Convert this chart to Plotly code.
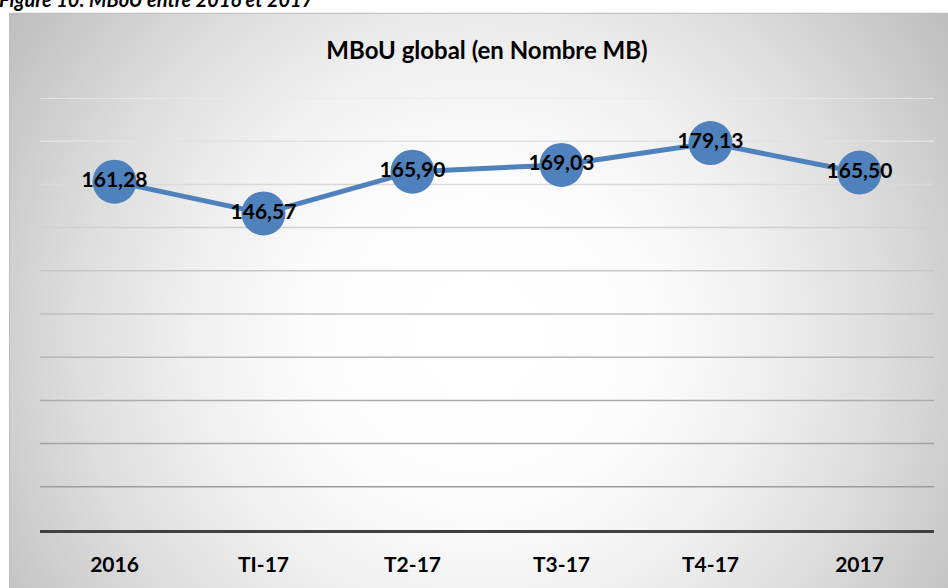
import base64
import plotly.graph_objects as go

# ---- data ----
categories = ["2016", "TI-17", "T2-17", "T3-17", "T4-17", "2017"]
values = [161.28, 146.57, 165.90, 169.03, 179.13, 165.50]
value_labels = [f"{v:.2f}".replace(".", ",") for v in values]
grid_values = [20, 40, 60, 80, 100, 120, 140, 160, 180, 200]

chart_title = "MBoU global (en Nombre MB)"
caption = "Figure 10: MBoU entre 2016 et 2017"

W, H = 948, 588
ML, MR, MT, MB = 40, 14, 98, 54
PW, PH = W - ML - MR, H - MT - MB

FONT = "Lato"
BLUE = "#4f81bd"

# radial gradient background (frame) as an SVG image
FX0, FY0, FX1, FY1 = 9, 12, 960, 600
fw, fh = FX1 - FX0, FY1 - FY0
svg = f'''<svg xmlns="http://www.w3.org/2000/svg" width="{fw}" height="{fh}" viewBox="0 0 {fw} {fh}">
<defs><radialGradient id="g" gradientUnits="userSpaceOnUse" cx="{470}" cy="{325}" r="{570}">
<stop offset="0" stop-color="#ffffff"/>
<stop offset="0.3" stop-color="#fcfcfc"/>
<stop offset="0.5" stop-color="#f0f0f0"/>
<stop offset="0.7" stop-color="#dedede"/>
<stop offset="0.85" stop-color="#cecece"/>
<stop offset="1" stop-color="#bebebe"/>
</radialGradient></defs>
<rect x="0" y="0" width="{fw}" height="{fh}" fill="url(#g)"/>
</svg>'''
svg_uri = "data:image/svg+xml;base64," + base64.b64encode(svg.encode()).decode()

def px_to_paper_x(px):
    return (px - ML) / PW

def px_to_paper_y(py):
    return (H - MB - py) / PH

fig = go.Figure()

fig.add_trace(go.Scatter(
    x=categories, y=values,
    mode="lines+markers+text",
    line=dict(color=BLUE, width=5),
    marker=dict(size=44, color=BLUE),
    text=value_labels,
    textposition="middle center",
    textfont=dict(family=FONT, size=21, color="#000000", weight="bold"),
    cliponaxis=False,
    hoverinfo="x+y",
))

# gridlines with graded colours (lighter toward the top)
shapes = []
n = len(grid_values)
for i, gv in enumerate(grid_values):
    t = i / (n - 1)
    c = int(round(0x9c + t * (0xea - 0x9c)))
    shapes.append(dict(type="line", xref="paper", yref="y", x0=0, x1=1, y0=gv, y1=gv,
                       line=dict(color=f"rgb({c},{c},{c})", width=1.5), layer="below"))
# frame border: top and left edges
bx0, by0 = px_to_paper_x(FX0 + 0.5), px_to_paper_y(FY0 + 0.5)
bx1, by1 = px_to_paper_x(FX1), px_to_paper_y(FY1)
shapes.append(dict(type="path", xref="paper", yref="paper",
                   path=f"M {bx0} {by1} L {bx0} {by0} L {bx1} {by0}",
                   line=dict(color="#bdbdbd", width=1), layer="below"))

fig.update_layout(
    width=W, height=H,
    margin=dict(l=ML, r=MR, t=MT, b=MB),
    paper_bgcolor="white",
    plot_bgcolor="rgba(0,0,0,0)",
    showlegend=False,
    images=[dict(source=svg_uri, xref="paper", yref="paper",
                 x=px_to_paper_x(FX0), y=px_to_paper_y(FY0),
                 sizex=fw / PW, sizey=fh / PH,
                 xanchor="left", yanchor="top", sizing="stretch", layer="below")],
    shapes=shapes,
    title=dict(text=chart_title, x=px_to_paper_x(487), xref="paper", y=1 - 51 / H, yref="container",
               xanchor="center", yanchor="middle",
               font=dict(family=FONT, size=24, color="#000000", weight="bold")),
    annotations=[dict(text=caption, xref="paper", yref="paper",
                      x=px_to_paper_x(-3), y=px_to_paper_y(12),
                      xanchor="left", yanchor="bottom", showarrow=False,
                      font=dict(family=FONT, size=20, color="#000000", weight="bold", style="italic"))],
    xaxis=dict(type="category", range=[-0.5, len(categories) - 0.5],
               showgrid=False, zeroline=False,
               showline=True, linecolor="#404040", linewidth=3,
               ticks="", ticklabelstandoff=14,
               tickfont=dict(family=FONT, size=21, color="#000000", weight="bold")),
    yaxis=dict(range=[0, 200], showgrid=False, zeroline=False, showticklabels=False,
               showline=False, ticks=""),
)

fig.write_html("out.html", config={"displayModeBar": False},
               post_script="document.body.style.margin='0';document.body.style.overflow='hidden';")
